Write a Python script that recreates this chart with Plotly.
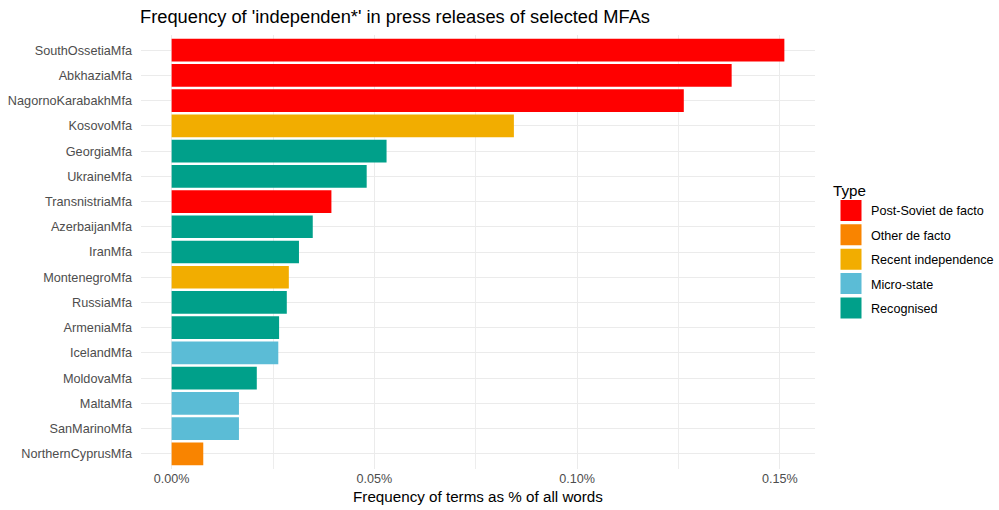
import plotly.graph_objects as go

mfas = ["SouthOssetiaMfa", "AbkhaziaMfa", "NagornoKarabakhMfa", "KosovoMfa",
        "GeorgiaMfa", "UkraineMfa", "TransnistriaMfa", "AzerbaijanMfa", "IranMfa",
        "MontenegroMfa", "RussiaMfa", "ArmeniaMfa", "IcelandMfa", "MoldovaMfa",
        "MaltaMfa", "SanMarinoMfa", "NorthernCyprusMfa"]
freq_pct = [0.1511, 0.1381, 0.1263, 0.0844, 0.0530, 0.0481, 0.0394, 0.0348,
            0.0314, 0.0289, 0.0284, 0.0265, 0.0263, 0.0210, 0.0166, 0.0166, 0.0078]
types = ["Post-Soviet de facto", "Post-Soviet de facto", "Post-Soviet de facto",
         "Recent independence", "Recognised", "Recognised", "Post-Soviet de facto",
         "Recognised", "Recognised", "Recent independence", "Recognised",
         "Recognised", "Micro-state", "Recognised", "Micro-state", "Micro-state",
         "Other de facto"]
type_levels = ["Post-Soviet de facto", "Other de facto", "Recent independence",
               "Micro-state", "Recognised"]
type_colors = ["#FF0000", "#F98400", "#F2AD00", "#5BBCD6", "#00A08A"]
x_ticks = [0.0, 0.05, 0.10, 0.15]
x_ticklabels = ["0.00%", "0.05%", "0.10%", "0.15%"]

cmap = dict(zip(type_levels, type_colors))
FONT = "Liberation Sans, Arial, sans-serif"

fig = go.Figure()
fig.add_trace(go.Bar(
    y=mfas, x=freq_pct, orientation="h", width=0.9,
    marker=dict(color=[cmap[t] for t in types], line=dict(width=0)),
    showlegend=False,
))
for i, (t, c) in enumerate(zip(type_levels, type_colors)):
    fig.add_trace(go.Scatter(
        x=[None], y=[None], mode="markers", name=t, legendgroup=t,
        marker=dict(symbol="square", size=16, color=c, line=dict(color=c, width=5)),
        showlegend=True,
    ))

xmax = max(freq_pct)
fig.update_layout(
    width=999, height=510,
    margin=dict(l=141, r=184, t=35, b=41, autoexpand=False),
    paper_bgcolor="white", plot_bgcolor="white",
    font=dict(family=FONT, color="#000000"),
    title=dict(text="Frequency of 'independen*' in press releases of selected MFAs",
               x=140/999, xanchor="left", xref="container",
               y=1 - 17/510, yanchor="middle", yref="container",
               font=dict(size=18.3, color="#000000")),
    xaxis=dict(range=[-0.05*xmax, 1.05*xmax], tickvals=x_ticks,
               ticktext=x_ticklabels, automargin=False,
               showgrid=True, gridcolor="#EBEBEB", gridwidth=1.3,
               minor=dict(dtick=0.025, tick0=0, showgrid=True,
                          gridcolor="#EDEDED", gridwidth=0.8, ticks=""),
               zeroline=False, showline=False, ticks="",
               tickfont=dict(size=12.6, color="#4D4D4D"),
               title=dict(text="Frequency of terms as % of all words",
                          font=dict(size=15.2, color="#000000"), standoff=6)),
    yaxis=dict(categoryorder="array", categoryarray=mfas,
               range=[len(mfas) - 1 + 0.6, -0.6], automargin=False,
               showgrid=True, gridcolor="#EBEBEB", gridwidth=1.3,
               zeroline=False, showline=False, ticks="",
               ticklabelstandoff=8,
               tickfont=dict(size=12.7, color="#4D4D4D")),
    legend=dict(title=dict(text="Type", font=dict(size=15.2, color="#000000")),
                x=831/999, xref="container", xanchor="left",
                y=1 - 176/510, yref="container", yanchor="top",
                traceorder="grouped", tracegroupgap=5, itemwidth=30,
                font=dict(size=12.6, color="#000000"),
                bgcolor="rgba(0,0,0,0)"),
)
fig.write_html("out.html",
               config={"displayModeBar": False},
               post_script="document.body.style.margin='0';"
                           "document.body.style.overflow='hidden';")
